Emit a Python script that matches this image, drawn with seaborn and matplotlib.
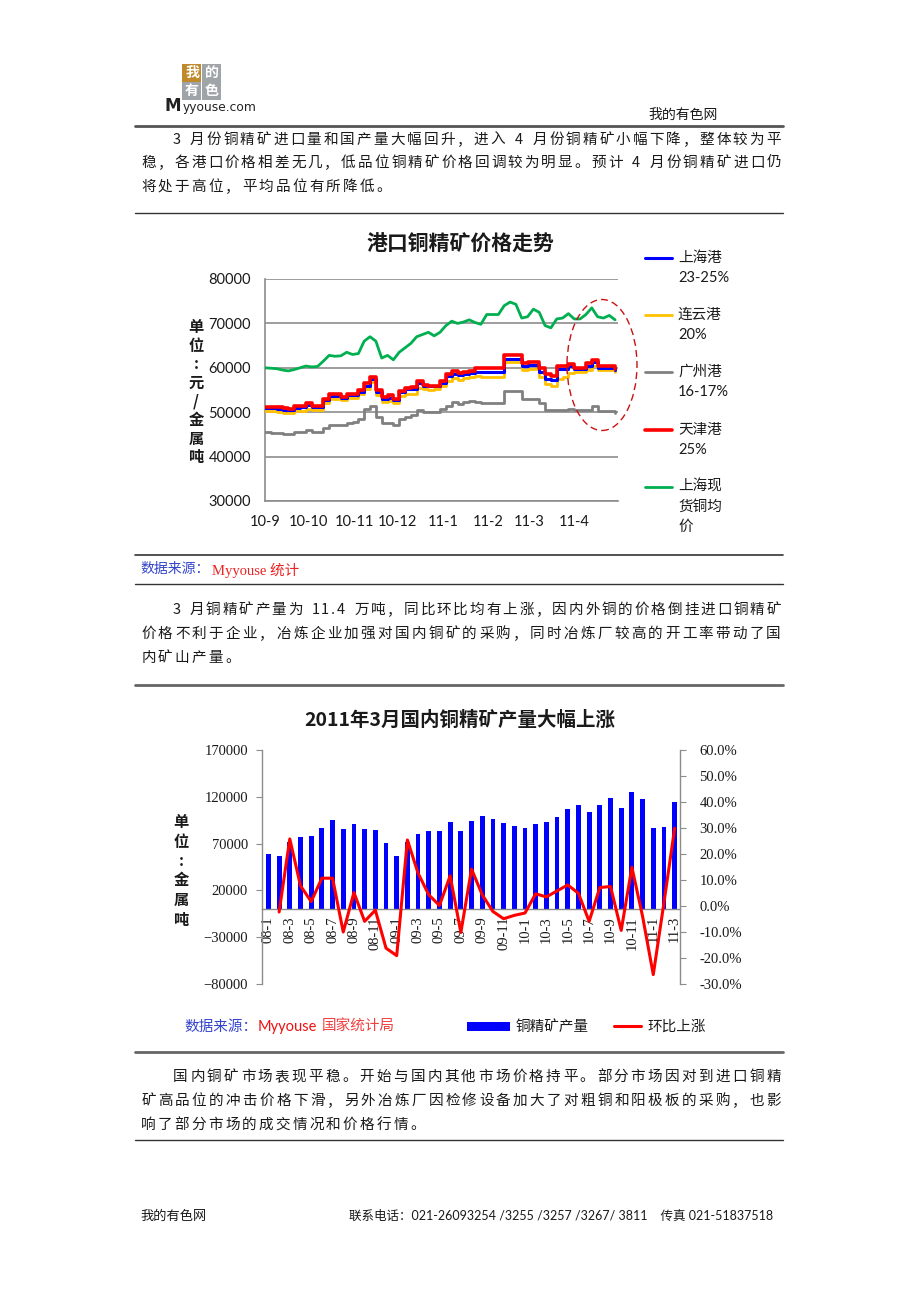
import numpy as np
import pandas as pd
import matplotlib
matplotlib.use("Agg")
import matplotlib.pyplot as plt
from matplotlib.patches import Rectangle, Ellipse
from matplotlib.lines import Line2D
from matplotlib.ticker import FuncFormatter
import seaborn as sns

# ---------------- data ----------------
# chart 1: port copper concentrate prices (yuan / metal ton), sampled every 4 days from 2010-09-01
price_dates = pd.date_range("2010-09-01", periods=61, freq="4D")
shanghai = [50900, 50900, 50800, 50600, 50400, 51000, 51100, 51600, 51200, 51200,
            52700, 53600, 53600, 53200, 53800, 53800, 54600, 56000, 57400, 54500,
            53000, 53300, 52700, 54500, 55200, 55300, 56500, 56000, 55800, 55800,
            56600, 58100, 58700, 58300, 58500, 58800, 59000, 59000, 59000, 59000,
            59000, 62000, 62000, 62000, 60300, 60600, 60600, 59000, 57500, 57200,
            59800, 59800, 60400, 59800, 59800, 60500, 61200, 60000, 60000, 60000, 59600]
lianyun = [50200, 50200, 50100, 49900, 49800, 50200, 50300, 50800, 50600, 50600,
           52000, 53000, 53000, 52800, 53300, 53300, 54000, 55300, 56800, 53800,
           52300, 52600, 52000, 53600, 54000, 54200, 55500, 55200, 55000, 55300,
           56000, 57000, 57800, 57300, 57600, 58000, 58200, 58000, 58000, 58000,
           58000, 61200, 61200, 61200, 59500, 59700, 59700, 58000, 56300, 56000,
           57500, 58000, 58800, 59000, 59000, 59600, 60400, 59500, 59500, 59500, 59000]
guangzhou = [45500, 45400, 45400, 45200, 45100, 45600, 45600, 46000, 45500, 45500,
             46500, 47200, 47200, 47200, 47600, 47700, 48500, 50800, 51500, 49000,
             47500, 47600, 47200, 48500, 49000, 49300, 50500, 50000, 50000, 50000,
             50800, 51500, 52300, 51800, 52200, 52500, 52400, 52000, 52000, 52000,
             52000, 54700, 54700, 54700, 53000, 53000, 53000, 52000, 50500, 50500,
             50500, 50500, 50800, 50500, 50400, 50500, 51500, 50300, 50200, 50200, 49800]
tianjin = [51200, 51200, 51100, 51000, 50800, 51500, 51500, 52000, 51500, 51500,
           53000, 54000, 54000, 53500, 54200, 54200, 55000, 56500, 58000, 55000,
           53500, 53800, 53000, 54800, 55500, 55600, 57000, 56200, 56000, 56000,
           57000, 58500, 59200, 58800, 59000, 59300, 60000, 60000, 60000, 60000,
           60000, 62800, 62800, 62800, 61000, 61200, 61200, 60000, 58500, 58200,
           60500, 60500, 60800, 60000, 60000, 61000, 61800, 60500, 60500, 60400, 59800]
spot = [60000, 59900, 59800, 59500, 59300, 59600, 60000, 60400, 60200, 60300,
        61500, 62800, 62600, 62700, 63500, 63000, 63200, 66000, 67000, 66000,
        62200, 62800, 61800, 63500, 64500, 65500, 67000, 67500, 68000, 67200,
        68000, 69500, 70500, 70000, 70300, 70800, 70200, 69800, 72000, 72000,
        72000, 74000, 74800, 74300, 71200, 71500, 73200, 72500, 69500, 69000,
        71000, 71200, 72200, 71000, 71000, 72000, 73500, 71500, 71200, 71800, 70800]
price_month_labels = ["10-9", "10-10", "10-11", "10-12", "11-1", "11-2", "11-3", "11-4", ""]

# chart 2: domestic copper concentrate output (metal ton) and month-on-month change (%)
months = ["08-1", "08-2", "08-3", "08-4", "08-5", "08-6", "08-7", "08-8", "08-9", "08-10", "08-11", "08-12",
          "09-1", "09-2", "09-3", "09-4", "09-5", "09-6", "09-7", "09-8", "09-9", "09-10", "09-11", "09-12",
          "10-1", "10-2", "10-3", "10-4", "10-5", "10-6", "10-7", "10-8", "10-9", "10-10", "10-11", "10-12",
          "11-1", "11-2", "11-3"]
output = [58700, 57200, 72000, 77000, 78500, 87000, 95300, 85700, 90600, 85700, 84600, 70700,
          57200, 72000, 80700, 83200, 83200, 93100, 83500, 94200, 99200, 96700, 91700, 89200,
          86700, 90700, 93100, 98100, 106700, 111300, 104100, 111300, 118700, 107700, 125100, 117600,
          86700, 87800, 114100]
mom_months = months[1:]
mom_pct = [-2.3, 25.8, 7.8, 1.7, 10.7, 10.7, -10.0, 5.2, -5.9, -1.6, -16.2,
           -19.1, 25.4, 12.6, 4.3, 0.2, 11.6, -10.2, 14.2, 4.3, -2.1, -4.9, -3.6,
           -2.7, 4.7, 3.5, 5.8, 8.1, 4.9, -5.9, 7.1, 7.5, -9.4, 14.9, -4.0,
           -26.4, 1.3, 29.9]

para1 = ["3 月份铜精矿进口量和国产量大幅回升，进入 4 月份铜精矿小幅下降，整体较为平",
         "稳，各港口价格相差无几，低品位铜精矿价格回调较为明显。预计 4 月份铜精矿进口仍",
         "将处于高位，平均品位有所降低。"]
para2 = ["3 月铜精矿产量为 11.4 万吨，同比环比均有上涨，因内外铜的价格倒挂进口铜精矿",
         "价格不利于企业，冶炼企业加强对国内铜矿的采购，同时冶炼厂较高的开工率带动了国",
         "内矿山产量。"]
para3 = ["国内铜矿市场表现平稳。开始与国内其他市场价格持平。部分市场因对到进口铜精",
         "矿高品位的冲击价格下滑，另外冶炼厂因检修设备加大了对粗铜和阳极板的采购，也影",
         "响了部分市场的成交情况和价格行情。"]

# ---------------- style ----------------
sns.set_style("white")
plt.rcParams["font.family"] = ["Noto Sans CJK SC", "DejaVu Sans"]
CJK = ["Noto Sans CJK SC", "DejaVu Sans"]
LAT = ["Lato", "Noto Sans CJK SC", "DejaVu Sans"]
SERIF = ["Liberation Serif", "Noto Sans CJK SC", "DejaVu Sans"]
TXT = "#1a1a1a"
GRID = "#8c8c8c"

W, H = 920, 1302
fig = plt.figure(figsize=(W / 100, H / 100), dpi=100)


def fx(x):
    return x / W


def fy(y):
    return 1 - y / H


def hline(y, lw=1.0, color="#333333"):
    fig.add_artist(Line2D([fx(135), fx(783)], [fy(y), fy(y)], lw=lw, color=color))


def text_line(s, x0, y, x1=None, step=16.8, size=10.5):
    weights = [0.5 if ord(c) < 128 else 1.0 for c in s]
    if x1 is not None:
        step = (x1 - x0) / sum(weights)
    x = x0
    for c, w in zip(s, weights):
        if c != " ":
            fig.text(fx(x + w * step / 2), fy(y), c, fontsize=size, color=TXT,
                     family=CJK, ha="center", va="center")
        x += w * step


def paragraph(lines, ys):
    for i, (s, y) in enumerate(zip(lines, ys)):
        x0 = 172 if i == 0 else 140
        last = i == len(lines) - 1
        text_line(s, x0, y, None if last else 782)


# ---------------- page header ----------------
for (cx, cy, ch, bg) in [(192, 73, "我", "#C08A2C"), (212, 73, "的", "#9EA4A8"),
                         (192, 91, "有", "#9EA4A8"), (212, 91, "色", "#9EA4A8")]:
    fig.add_artist(Rectangle((fx(cx - 9.5), fy(cy + 9)), 19 / W, 18 / H,
                             transform=fig.transFigure, color=bg, lw=0))
    fig.text(fx(cx), fy(cy), ch, fontsize=10, color="white", family=CJK,
             ha="center", va="center", weight="bold")
fig.text(fx(165), fy(106), "M", fontsize=12, color="#222222", family=["DejaVu Sans"],
         ha="left", va="center", weight="bold")
fig.text(fx(183), fy(108), "yyouse.com", fontsize=8.8, color="#222222", family=["DejaVu Sans"],
         ha="left", va="center")
fig.text(fx(648), fy(115), "我的有色网", fontsize=10, color=TXT, family=CJK, ha="left", va="center")
hline(126, lw=2.0, color="#555555")

paragraph(para1, [140, 163, 187])
hline(213, lw=1.0)

# ---------------- chart 1 ----------------
fig.text(fx(460), fy(244), "港口铜精矿价格走势", fontsize=15, weight="bold",
         family=CJK, color=TXT, ha="center", va="center")
ax1 = fig.add_axes([fx(265), fy(501), (618 - 265) / W, (501 - 279) / H])
series1 = [("上海港", ["上海港", "23-25%"], shanghai, "#0000FF", 2.2, 258),
           ("连云港", ["连云港", "20%"], lianyun, "#FFC000", 2.0, 315),
           ("广州港", ["广州港", "16-17%"], guangzhou, "#808080", 2.0, 372),
           ("天津港", ["天津港", "25%"], tianjin, "#FF0000", 2.6, 430),
           ("上海现货铜均价", ["上海现", "货铜均", "价"], spot, "#00B050", 2.0, 487)]
for name, lab, vals, col, lw, ly in [series1[2], series1[1], series1[0], series1[3], series1[4]]:
    ds = "default" if name == "上海现货铜均价" else "steps-post"
    sns.lineplot(x=price_dates, y=vals, ax=ax1, color=col, lw=lw, drawstyle=ds,
                 legend=False, zorder=3)
ax1.set_ylim(30000, 80000)
ax1.set_yticks(range(30000, 80001, 10000))
ax1.set_xlim(pd.Timestamp("2010-09-01"), pd.Timestamp("2011-05-01"))
ax1.set_xticks(pd.date_range("2010-09-01", "2011-05-01", freq="MS"))
ax1.set_xticklabels(price_month_labels)
ax1.yaxis.grid(True, color=GRID, lw=1.2)
ax1.xaxis.grid(False)
for s in ["top", "right"]:
    ax1.spines[s].set_visible(False)
for s in ["left", "bottom"]:
    ax1.spines[s].set_color(GRID)
    ax1.spines[s].set_linewidth(1.2)
ax1.tick_params(axis="both", length=4, color=GRID, width=1, direction="out",
                labelsize=10.5, labelcolor=TXT, pad=6)
for t in ax1.get_xticklabels() + ax1.get_yticklabels():
    t.set_family(LAT)
ax1.set_xlabel("")
ax1.set_ylabel("")

for i, ch in enumerate(["单", "位", ":", "元", "/", "金", "属", "吨"]):
    fig.text(fx(196), fy(327 + 18.6 * i), ch, fontsize=11, weight="bold", family=CJK,
             color=TXT, ha="center", va="center")

# legend of chart 1
for name, lab, vals, col, lw, ly in series1:
    fig.add_artist(Line2D([fx(645), fx(672)], [fy(ly), fy(ly)], color=col, lw=lw))
    for j, part in enumerate(lab):
        fig.text(fx(678), fy(ly + 20 * j), part, fontsize=10.5, family=LAT, color=TXT,
                 ha="left", va="center")

fig.add_artist(Ellipse((fx(602), fy(365)), 70 / W, 131 / H, transform=fig.transFigure,
                       fill=False, ec="#CC1111", ls=(0, (5, 3)), lw=1.0))

hline(555, lw=1.2)
fig.text(fx(140), fy(570), "数据来源：", fontsize=10, color="#3344CC", family=SERIF, ha="left", va="center")
fig.text(fx(212), fy(570), "Myyouse 统计", fontsize=10.5, color="#EE2222", family=SERIF, ha="left", va="center")
hline(584, lw=1.0)

paragraph(para2, [610, 634, 658])
hline(685, lw=2.0, color="#666666")

# ---------------- chart 2 ----------------
fig.text(fx(460), fy(720), "2011年3月国内铜精矿产量大幅上涨", fontsize=14, weight="bold",
         family=CJK, color=TXT, ha="center", va="center")
ax2 = fig.add_axes([fx(262), fy(984), (680 - 262) / W, (984 - 750) / H])
pos = np.arange(len(months))
sns.barplot(x=pos, y=output, ax=ax2, native_scale=True, color="#0000FF", saturation=1,
            width=0.45, linewidth=0)
ax2.set_ylim(-80000, 170000)
ax2.set_yticks(range(-80000, 170001, 50000))
ax2r = ax2.twinx()
sns.lineplot(x=pos[1:], y=mom_pct, ax=ax2r, color="#FF0000", lw=2.2, legend=False)
ax2r.set_ylim(-30, 60)
ax2r.set_yticks(range(-30, 61, 10))
ax2r.yaxis.set_major_formatter(FuncFormatter(lambda v, p: f"{v:.1f}%"))
ax2.set_xlim(-0.6, len(months) - 0.6)
ax2r.set_xlim(-0.6, len(months) - 0.6)

ax2.spines["bottom"].set_position(("data", 0))
for s in ["top", "right"]:
    ax2.spines[s].set_visible(False)
for s in ["top", "left", "bottom"]:
    ax2r.spines[s].set_visible(False)
for sp in [ax2.spines["left"], ax2.spines["bottom"], ax2r.spines["right"]]:
    sp.set_color(GRID)
    sp.set_linewidth(1.0)
ax2.set_xticks(pos[::2])
ax2.set_xticklabels(months[::2], rotation=90, va="top", ha="center")
ax2.set_xticks(np.arange(-0.5, len(months), 1), minor=True)
ax2.tick_params(axis="x", which="major", length=0, pad=5, labelsize=10.5, labelcolor=TXT)
ax2.tick_params(axis="x", which="minor", length=4, color=GRID, direction="out")
ax2.tick_params(axis="y", length=4, color=GRID, direction="out", labelsize=10.5,
                labelcolor=TXT, pad=6)
ax2r.tick_params(axis="y", length=4, color=GRID, direction="out", labelsize=10.5,
                 labelcolor=TXT, pad=10)
for t in ax2.get_xticklabels() + ax2.get_yticklabels() + ax2r.get_yticklabels():
    t.set_family(SERIF)
for a in (ax2, ax2r):
    a.set_xlabel("")
    a.set_ylabel("")
    a.grid(False)

for i, ch in enumerate(["单", "位", ":", "金", "属", "吨"]):
    fig.text(fx(181), fy(822 + 19.5 * i), ch, fontsize=11, weight="bold", family=CJK,
             color=TXT, ha="center", va="center")

# source + legend of chart 2
fig.text(fx(184), fy(1027), "数据来源：", fontsize=10.5, color="#3344CC", family=CJK, ha="left", va="center")
fig.text(fx(258), fy(1027), "Myyouse", fontsize=10.5, color="#EE1111", family=LAT, ha="left", va="center")
fig.text(fx(322), fy(1027), "国家统计局", fontsize=10.5, color="#F04040", family=CJK, ha="left", va="center")
fig.add_artist(Rectangle((fx(467), fy(1031)), 43 / W, 9 / H, transform=fig.transFigure,
                         color="#0000FF", lw=0))
fig.text(fx(516), fy(1027), "铜精矿产量", fontsize=10.5, color=TXT, family=CJK, ha="left", va="center")
fig.add_artist(Line2D([fx(614), fx(641)], [fy(1026), fy(1026)], color="#FF0000", lw=2.2))
fig.text(fx(647), fy(1027), "环比上涨", fontsize=10.5, color=TXT, family=CJK, ha="left", va="center")

hline(1052, lw=2.0, color="#666666")
paragraph(para3, [1077, 1101, 1125])
hline(1140, lw=1.0)

# ---------------- footer ----------------
fig.text(fx(140), fy(1216), "我的有色网", fontsize=9.5, color=TXT, family=CJK, ha="left", va="center")
fig.text(fx(349), fy(1216), "联系电话：021-26093254 /3255 /3257 /3267/ 3811    传真 021-51837518",
         fontsize=9, color=TXT, family=LAT, ha="left", va="center")

fig.savefig("out.png", dpi=100)
